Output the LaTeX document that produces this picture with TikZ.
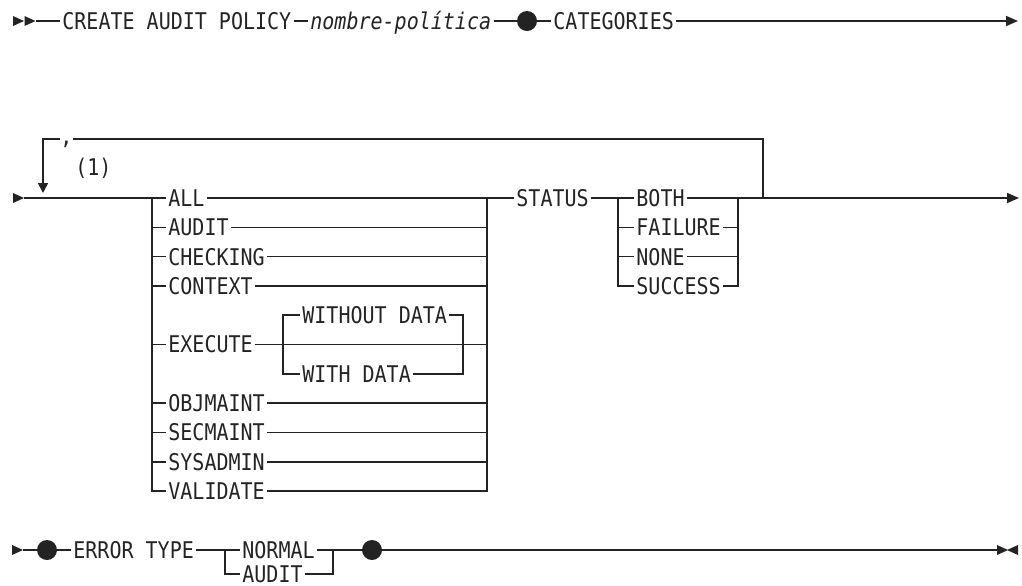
\documentclass[tikz,border=0pt]{standalone}
\usepackage{fontspec}
\usepackage{tikz}
\usetikzlibrary{arrows.meta,positioning,calc}
\newfontfamily\railfont{DejaVu Sans Mono}[FakeStretch=0.87]
\definecolor{railink}{RGB}{35,35,35}
\newcommand{\tipright}[2]{\fill[railink] (#1,#2) ++(0,-5) -- ++(11,5) -- ++(-11,5) -- cycle;}
\newcommand{\tipleft}[2]{\fill[railink] (#1,#2) ++(0,-5) -- ++(-11,5) -- ++(11,5) -- cycle;}

\begin{document}
\begin{tikzpicture}[x=0.5pt, y=-0.5pt,
    rail/.style={draw=railink, line width=0.8pt},
    kw/.style={anchor=west, inner xsep=1pt, inner ysep=0pt, text height=8.4pt, text depth=0pt, text=railink, font=\railfont\fontsize{11.5}{13}\selectfont},
    dot/.style={circle, fill=railink, inner sep=0pt, minimum size=10pt},
    tip/.style={-{Triangle[length=6pt,width=5pt]}}]
  \useasboundingbox (0,0) rectangle (1022,585);

  \tipright{13}{21}
  \tipright{24.5}{21}
  \coordinate (st1) at (36,21);
  \node[kw] (create) at (60,21) {CREATE AUDIT POLICY};
  \node[kw] (polname) at (308,21) {\textit{nombre-política}};
  \node[dot] (dot1) at (527,21) {};
  \node[kw] (categories) at (551,21) {CATEGORIES};
  \coordinate (en1) at (1018,21);
  \draw[rail] (st1) -- (create);
  \draw[rail] (create) -- (polname);
  \draw[rail] (polname) -- (dot1);
  \draw[rail] (dot1) -- (categories);
  \draw[rail,tip] (categories) -- (en1);

  \tipright{13}{198}
  \coordinate (st2) at (24,198);
  \coordinate (brL) at (152,198);
  \coordinate (brR) at (487,198);
  \foreach \nm/\txt/\k in {all/ALL/0, audit/AUDIT/1, checking/CHECKING/2, context/CONTEXT/3, execute/EXECUTE/5, objmaint/OBJMAINT/7, secmaint/SECMAINT/8, sysadmin/SYSADMIN/9, validate/VALIDATE/10}
    \node[kw] (\nm) at (166,{198+\k*29.3}) {\txt};
  \foreach \nm in {audit, checking, context, execute, objmaint, secmaint, sysadmin} {
    \draw[rail] (\nm.west -| brL) -- (\nm);
    \draw[rail] (\nm) -- (\nm.east -| brR);
  }
  \draw[rail] (brL) -- (validate.west -| brL) -- (validate);
  \draw[rail] (validate) -- (validate.east -| brR) -- (brR);

  \coordinate (exL) at (283,344.5);
  \coordinate (exR) at (463,344.5);
  \node[kw] (wodata) at (300,{198+4*29.3}) {WITHOUT DATA};
  \node[kw] (wdata) at (300,{198+6*29.3}) {WITH DATA};
  \draw[rail] (wodata) -- (wodata.west -| exL) -- (wdata.west -| exL) -- (wdata);
  \draw[rail] (wodata) -- (wodata.east -| exR) -- (wdata.east -| exR) -- (wdata);

  \node[kw] (status) at (514,198) {STATUS};
  \coordinate (stL) at (618,198);
  \coordinate (stR) at (738,198);
  \foreach \nm/\txt/\k in {both/BOTH/0, failure/FAILURE/1, none/NONE/2, success/SUCCESS/3}
    \node[kw] (\nm) at (634,{198+\k*29.3}) {\txt};
  \foreach \nm in {failure, none} {
    \draw[rail] (\nm.west -| stL) -- (\nm);
    \draw[rail] (\nm) -- (\nm.east -| stR);
  }
  \draw[rail] (stL) -- (success.west -| stL) -- (success);
  \draw[rail] (success) -- (success.east -| stR) -- (stR);
  \coordinate (en2) at (1019,198);
  \draw[rail] (st2) -- (all);
  \draw[rail] (all) -- (status);
  \draw[rail] (status) -- (both);
  \draw[rail,tip] (both) -- (en2);

  \coordinate (lpR) at (763,198);
  \coordinate (lpTL) at (43,139);
  \coordinate (lpBL) at (43,193);
  \node[kw, inner xsep=0pt] (sep) at (60,136) {,};
  \node[kw] (note) at (73,167) {(1)};
  \draw[rail] (lpR) -- (lpR |- lpTL) -- (sep.east |- lpTL);
  \draw[rail,-{Triangle[length=5pt,width=5pt]}] (sep.west |- lpTL) -- (lpTL) -- (lpBL);

  \tipright{12}{550}
  \coordinate (st3) at (23,550);
  \node[dot] (dot2) at (47,550) {};
  \node[kw] (errtype) at (71,550) {ERROR TYPE};
  \coordinate (erL) at (225,550);
  \coordinate (erR) at (333,550);
  \node[kw] (normal) at (240,550) {NORMAL};
  \node[kw] (audittype) at (240,574) {AUDIT};
  \node[dot] (dot3) at (372,550) {};
  \coordinate (en3) at (997,550);
  \draw[rail] (st3) -- (dot2);
  \draw[rail] (dot2) -- (errtype);
  \draw[rail] (errtype) -- (normal);
  \draw[rail] (normal) -- (dot3);
  \draw[rail] (erL) -- (audittype.west -| erL) -- (audittype);
  \draw[rail] (audittype) -- (audittype.east -| erR) -- (erR);
  \draw[rail] (dot3) -- (en3);
  \tipright{997}{550}
  \tipleft{1018}{550}
\end{tikzpicture}
\end{document}
